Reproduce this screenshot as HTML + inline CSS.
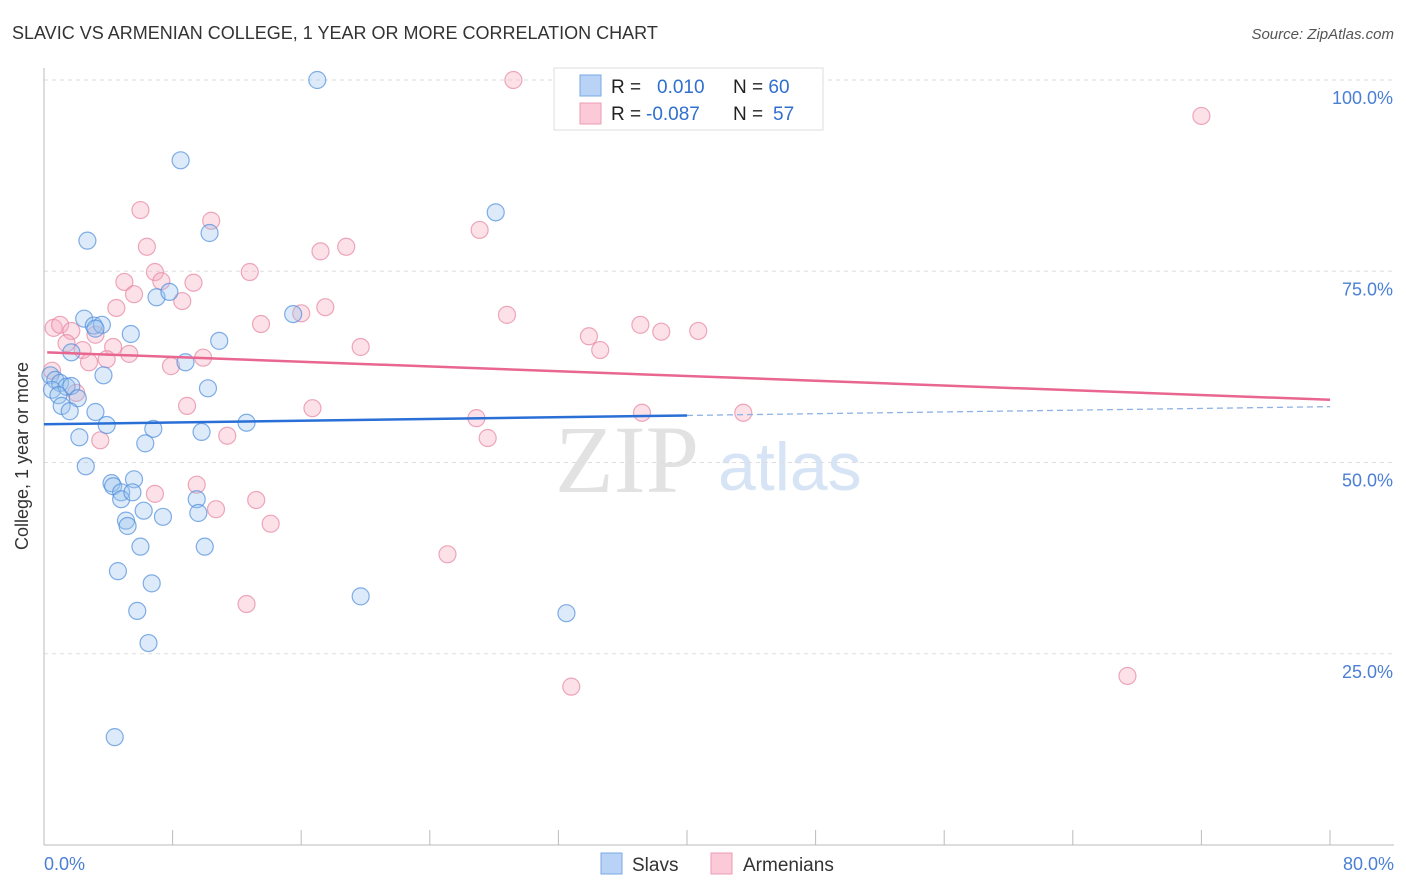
<!DOCTYPE html>
<html><head><meta charset="utf-8"><style>
body{margin:0;background:#fff;font-family:"Liberation Sans",sans-serif;}
svg{display:block}
</style></head><body>
<svg id="c" width="1406" height="892">
<text x="12" y="39" font-size="18" fill="#333">SLAVIC VS ARMENIAN COLLEGE, 1 YEAR OR MORE CORRELATION CHART</text>
<text x="1394" y="39" font-size="15" fill="#555" font-style="italic" text-anchor="end">Source: ZipAtlas.com</text>
<text x="555" y="492" font-size="96" fill="#e2e2e2" font-family="Liberation Serif,serif">ZIP</text>
<text x="718" y="490" font-size="68" fill="#d6e4f5">atlas</text>
<g id="grid"></g>
<line x1="44" y1="68" x2="44" y2="845" stroke="#bbb"/>
<line x1="44" y1="845" x2="1394" y2="845" stroke="#bbb"/>
<g id="ticks"></g>
<text x="28" y="456" font-size="18" fill="#333" text-anchor="middle" transform="rotate(-90 28 456)">College, 1 year or more</text>
<text x="44" y="870" font-size="18" fill="#4a7fd4">0.0%</text>
<text x="1394" y="870" font-size="18" fill="#4a7fd4" text-anchor="end">80.0%</text>
<g id="pts"></g>
<g id="trend"></g>
<g>
<rect x="554" y="68" width="269" height="62" fill="#fff" stroke="#ddd"/>
<rect x="580" y="75" width="21" height="21" fill="#b8d3f5" stroke="#7aa8e6"/>
<rect x="580" y="103" width="21" height="21" fill="#fbc9d8" stroke="#ee9cb6"/>
<text x="611" y="93" font-size="19" fill="#222">R = <tspan x="657" fill="#2f6fce">0.010</tspan><tspan x="733" fill="#222">N = </tspan><tspan fill="#2f6fce">60</tspan></text>
<text x="611" y="120" font-size="19" fill="#222">R = <tspan x="646" fill="#2f6fce">-0.087</tspan><tspan x="733" fill="#222">N = </tspan><tspan x="773" fill="#2f6fce">57</tspan></text>
</g>
<g>
<rect x="601" y="853" width="21" height="21" fill="#b8d3f5" stroke="#7aa8e6"/>
<text x="632" y="871" font-size="19" fill="#333">Slavs</text>
<rect x="711" y="853" width="21" height="21" fill="#fbc9d8" stroke="#ee9cb6"/>
<text x="743" y="871" font-size="19" fill="#333">Armenians</text>
</g>
</svg>
<script>
const yTicks=[100,75,50,25];
const yTickLabels=["100.0%","75.0%","50.0%","25.0%"];
const xTicks=[0,8,16,24,32,40,48,56,64,72,80];
const slavX=[17.0,8.5,2.7,10.3,28.1,7.0,7.8,2.5,3.1,3.6,3.2,5.4,15.5,10.9,1.7,8.8,3.7,10.2,0.4,0.7,1.0,0.5,1.4,1.7,0.9,2.1,1.1,1.6,3.2,3.9,12.6,6.8,2.2,6.3,9.8,2.6,4.2,5.6,4.3,4.8,4.8,5.5,9.5,6.2,7.4,9.6,5.1,5.2,6.0,10.0,4.6,6.7,19.7,5.8,32.5,6.5,4.4];
const slavY=[100,89.5,79.0,80.0,82.7,71.6,72.3,68.8,67.9,68.0,67.5,66.8,69.4,65.9,64.4,63.1,61.4,59.7,61.4,60.8,60.4,59.5,59.9,60.0,58.8,58.4,57.4,56.7,56.6,54.9,55.2,54.4,53.3,52.5,54.0,49.5,47.3,47.8,46.9,46.1,45.2,46.1,45.2,43.7,42.9,43.4,42.4,41.7,39.0,39.0,35.8,34.2,32.5,30.6,30.3,26.4,14.1];
const armX=[29.2,72.0,6.0,10.4,6.4,17.2,18.8,27.1,12.8,6.9,5.0,7.3,9.3,5.6,8.6,4.5,17.5,16.0,28.8,13.5,0.6,1.0,1.7,3.2,37.1,38.4,40.7,33.9,34.6,19.7,1.4,2.4,4.3,5.3,3.9,2.8,9.9,7.9,0.5,2.0,8.9,16.7,26.9,43.5,37.2,3.5,11.4,27.6,6.9,9.5,13.2,10.7,14.1,25.1,12.6,32.8,67.4];
const armY=[100,95.3,83.0,81.6,78.2,77.6,78.2,80.4,74.9,74.9,73.6,73.7,73.5,72.0,71.1,70.2,70.3,69.5,69.3,68.1,67.6,68.0,67.2,66.7,68.0,67.1,67.2,66.5,64.7,65.1,65.6,64.7,65.1,64.2,63.5,63.1,63.7,62.6,62.0,59.1,57.4,57.1,55.8,56.5,56.5,52.9,53.5,53.2,45.9,47.1,45.1,43.9,42.0,38.0,31.5,20.7,22.1];
const slavTrend=[55.0,57.3]; // values at x=0 and x=80
const armTrend=[64.4,58.2];
const X=v=>44+v*16.075, Y=v=>845-v*7.65;
const NS="http://www.w3.org/2000/svg";
function mk(t,a,p){const e=document.createElementNS(NS,t);for(const k in a)e.setAttribute(k,a[k]);p.appendChild(e);return e;}
const grid=document.getElementById('grid');
yTicks.forEach((v,i)=>{
 const l=mk('line',{x1:44,x2:1394,y1:Y(v),y2:Y(v),stroke:'#ddd','stroke-dasharray':'4,4'},grid);
 
 
 const t=mk('text',{x:1393,y:Y(v)+24,'font-size':18,fill:'#4a7fd4','text-anchor':'end'},grid);
 t.textContent=yTickLabels[i];
 
 
});
const tk=document.getElementById('ticks');
xTicks.forEach(v=>{
 const l=mk('line',{x1:X(v),x2:X(v),y1:830,y2:845,stroke:'#bbb'},tk);
 
 
});
const pts=document.getElementById('pts');
function plot(xs,ys,fill,stroke,name){
 xs.forEach((x,i)=>{
  const c=mk('circle',{cx:X(x),cy:Y(ys[i]),r:8.5,fill:fill,'fill-opacity':0.35,stroke:stroke,'stroke-width':1.2,'stroke-opacity':0.7},pts);
  
  
 });
}
plot(armX,armY,'#f5a9c0','#e6849f','armenian-point');
plot(slavX,slavY,'#9cc2ef','#4f8ddc','slav-point');
const tr=document.getElementById('trend');
const b1=mk('line',{x1:X(0),y1:Y(slavTrend[0]),x2:X(40),y2:Y(slavTrend[0]+(slavTrend[1]-slavTrend[0])/2),stroke:'#2a6fd6','stroke-width':2.5},tr);


const b2=mk('line',{x1:X(40),y1:Y(slavTrend[0]+(slavTrend[1]-slavTrend[0])/2),x2:X(80),y2:Y(slavTrend[1]),stroke:'#8fb2e4','stroke-width':1.3,'stroke-dasharray':'6,4'},tr);


const a1=mk('line',{x1:X(0.2),y1:Y(armTrend[0]),x2:X(80),y2:Y(armTrend[1]),stroke:'#e8668f','stroke-width':2.5},tr);


</script>
</body></html>
